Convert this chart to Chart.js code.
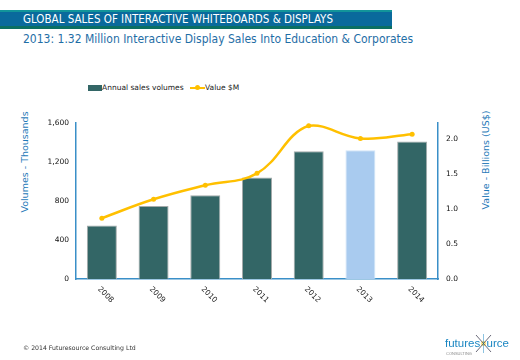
<!DOCTYPE html>
<html>
<head>
<meta charset="utf-8">
<script src="https://cdn.jsdelivr.net/npm/chart.js@4"></script>
<style>
    body { margin: 0; width: 520px; height: 360px; position: relative; background: #fff; overflow: hidden; font-family: "DejaVu Sans", sans-serif; }
    #chart { position: absolute; left: 0; top: 0; }
    .bar-top { position: absolute; left: 0; top: 10px; width: 392px; height: 2px; background: #12959a; }
    .bar-main { position: absolute; left: 0; top: 12px; width: 392px; height: 14px; background: #0a6a9c; }
    .bar-bottom { position: absolute; left: 0; top: 26px; width: 392px; height: 3px; background: #0b6f62; }
    .title { position: absolute; left: 23px; top: 12px; color: #fff; font-family: "DejaVu Sans Condensed", "DejaVu Sans", sans-serif; font-size: 11.5px; line-height: 15px; white-space: nowrap; }
    .subtitle { position: absolute; left: 23px; top: 32px; color: #1f6ea6; font-family: "DejaVu Sans Condensed", "DejaVu Sans", sans-serif; font-size: 12px; white-space: nowrap; }
    .legend { position: absolute; top: 83px; font-size: 7.5px; color: #222; white-space: nowrap; }
    .axis-title { position: absolute; color: #1f7ab8; font-size: 9.5px; white-space: nowrap; transform: translate(-50%, -50%) rotate(-90deg); }
    .footer { position: absolute; left: 23px; top: 344px; font-size: 6.2px; color: #333; }
    .logo { position: absolute; left: 445px; top: 337px; font-size: 11.5px; color: #1a86c2; font-family: "Liberation Sans", sans-serif; white-space: nowrap; }
    .logo small { position: absolute; left: 1px; top: 14px; font-size: 4px; color: #888; }
    .logo .o { position: relative; display: inline-block; }
    .logo svg { position: absolute; left: -6px; top: -4px; }
</style>
</head>
<body>
<div class="bar-top"></div>
<div class="bar-main"></div>
<div class="bar-bottom"></div>
<div class="title">GLOBAL SALES OF INTERACTIVE WHITEBOARDS &amp; DISPLAYS</div>
<div class="subtitle">2013: 1.32 Million Interactive Display Sales Into Education &amp; Corporates</div>

<div class="legend" style="left:88px;"><span style="display:inline-block;width:14px;height:6px;background:#336666;vertical-align:middle;"></span>Annual sales volumes</div>
<div class="legend" style="left:190px;"><span style="display:inline-block;position:relative;width:15px;height:2px;background:#ffc000;vertical-align:middle;"><span style="position:absolute;left:5px;top:-2px;width:5px;height:5px;border-radius:50%;background:#ffc000;"></span></span>Value $M</div>

<div class="axis-title" style="left:24px;top:162px;">Volumes - Thousands</div>
<div class="axis-title" style="left:485px;top:160px;">Value - Billions (US$)</div>

<canvas id="chart" width="520" height="360"></canvas>

<div class="footer">© 2014 Futuresource Consulting Ltd</div>
<div class="logo">futures<span class="o"><span style="opacity:0;">o</span><svg width="19" height="21" viewBox="0 0 19 21"><circle cx="9.5" cy="10.5" r="2.5" fill="#ffe27a"/><line x1="2" y1="2" x2="17" y2="19" stroke="#445" stroke-width="0.8"/><line x1="17" y1="2" x2="2" y2="19" stroke="#445" stroke-width="0.8"/><line x1="9.5" y1="1" x2="9.5" y2="20" stroke="#1a86c2" stroke-width="0.5"/></svg></span>urce<small>CONSULTING</small></div>

<script>
const years = ['2008', '2009', '2010', '2011', '2012', '2013', '2014'];
const salesVolumes = [550, 750, 860, 1040, 1310, 1320, 1410];
const valueBillions = [0.87, 1.14, 1.34, 1.51, 2.19, 2.01, 2.07];
const leftTicks = [0, 400, 800, 1200, 1600];
const rightTicks = [0, 0.5, 1.0, 1.5, 2.0];

const AXIS_BLUE = '#3a8fc8';
const barColors = years.map(y => y === '2013' ? '#a9cbef' : '#336666');
const barBorders = years.map(y => y === '2013' ? '#d2e5f8' : '#a3aaaa');

// Draws the year labels slanting down to the right under each category
const slantedLabels = {
    id: 'slantedLabels',
    afterDraw(chart) {
        const ctx = chart.ctx;
        const xScale = chart.scales.x;
        const top = chart.chartArea.bottom + 9;
        ctx.save();
        ctx.font = '7.5px "DejaVu Sans"';
        ctx.fillStyle = '#222';
        ctx.textAlign = 'left';
        ctx.textBaseline = 'middle';
        years.forEach((label, i) => {
            const x = xScale.getPixelForValue(i);
            ctx.save();
            ctx.translate(x - 3, top);
            ctx.rotate(Math.PI / 4);
            ctx.fillText(label, 0, 0);
            ctx.restore();
        });
        ctx.restore();
    }
};

new Chart(document.getElementById('chart').getContext('2d'), {
    data: {
        labels: years,
        datasets: [
            {
                type: 'line',
                label: 'Value $M',
                data: valueBillions,
                yAxisID: 'y2',
                order: 0,
                borderColor: '#ffc000',
                backgroundColor: '#ffc000',
                borderWidth: 2.5,
                tension: 0.4,
                pointRadius: 2.5,
                pointBackgroundColor: '#ffc000',
                pointBorderWidth: 0
            },
            {
                type: 'bar',
                label: 'Annual sales volumes',
                data: salesVolumes,
                yAxisID: 'y',
                order: 1,
                backgroundColor: barColors,
                borderColor: barBorders,
                borderWidth: 1,
                barPercentage: 0.58,
                categoryPercentage: 1
            }
        ]
    },
    options: {
        responsive: false,
        animation: false,
        layout: { padding: { top: 123, left: 0, right: 0, bottom: 0 } },
        plugins: { legend: { display: false }, tooltip: { enabled: false } },
        scales: {
            x: {
                grid: { display: false, drawTicks: false },
                border: { color: AXIS_BLUE, width: 1.5 },
                ticks: { display: false },
                afterFit: s => { s.height = 81; }
            },
            y: {
                position: 'left',
                min: 0,
                max: 1600,
                grid: { display: false, drawTicks: false },
                border: { color: AXIS_BLUE, width: 1.5 },
                afterBuildTicks: s => { s.ticks = leftTicks.map(v => ({ value: v })); },
                ticks: {
                    padding: 7,
                    color: '#111',
                    font: { family: 'DejaVu Sans', size: 7.5 },
                    callback: v => v.toLocaleString('en-US')
                },
                afterFit: s => { s.width = 76; }
            },
            y2: {
                position: 'right',
                min: 0,
                max: 2.23,
                grid: { display: false, drawTicks: false },
                border: { color: AXIS_BLUE, width: 1.5 },
                afterBuildTicks: s => { s.ticks = rightTicks.map(v => ({ value: v })); },
                ticks: {
                    padding: 8,
                    color: '#111',
                    font: { family: 'DejaVu Sans', size: 7.5 },
                    callback: v => Number(v).toFixed(1)
                },
                afterFit: s => { s.width = 82; }
            }
        }
    },
    plugins: [slantedLabels]
});
</script>
</body>
</html>
